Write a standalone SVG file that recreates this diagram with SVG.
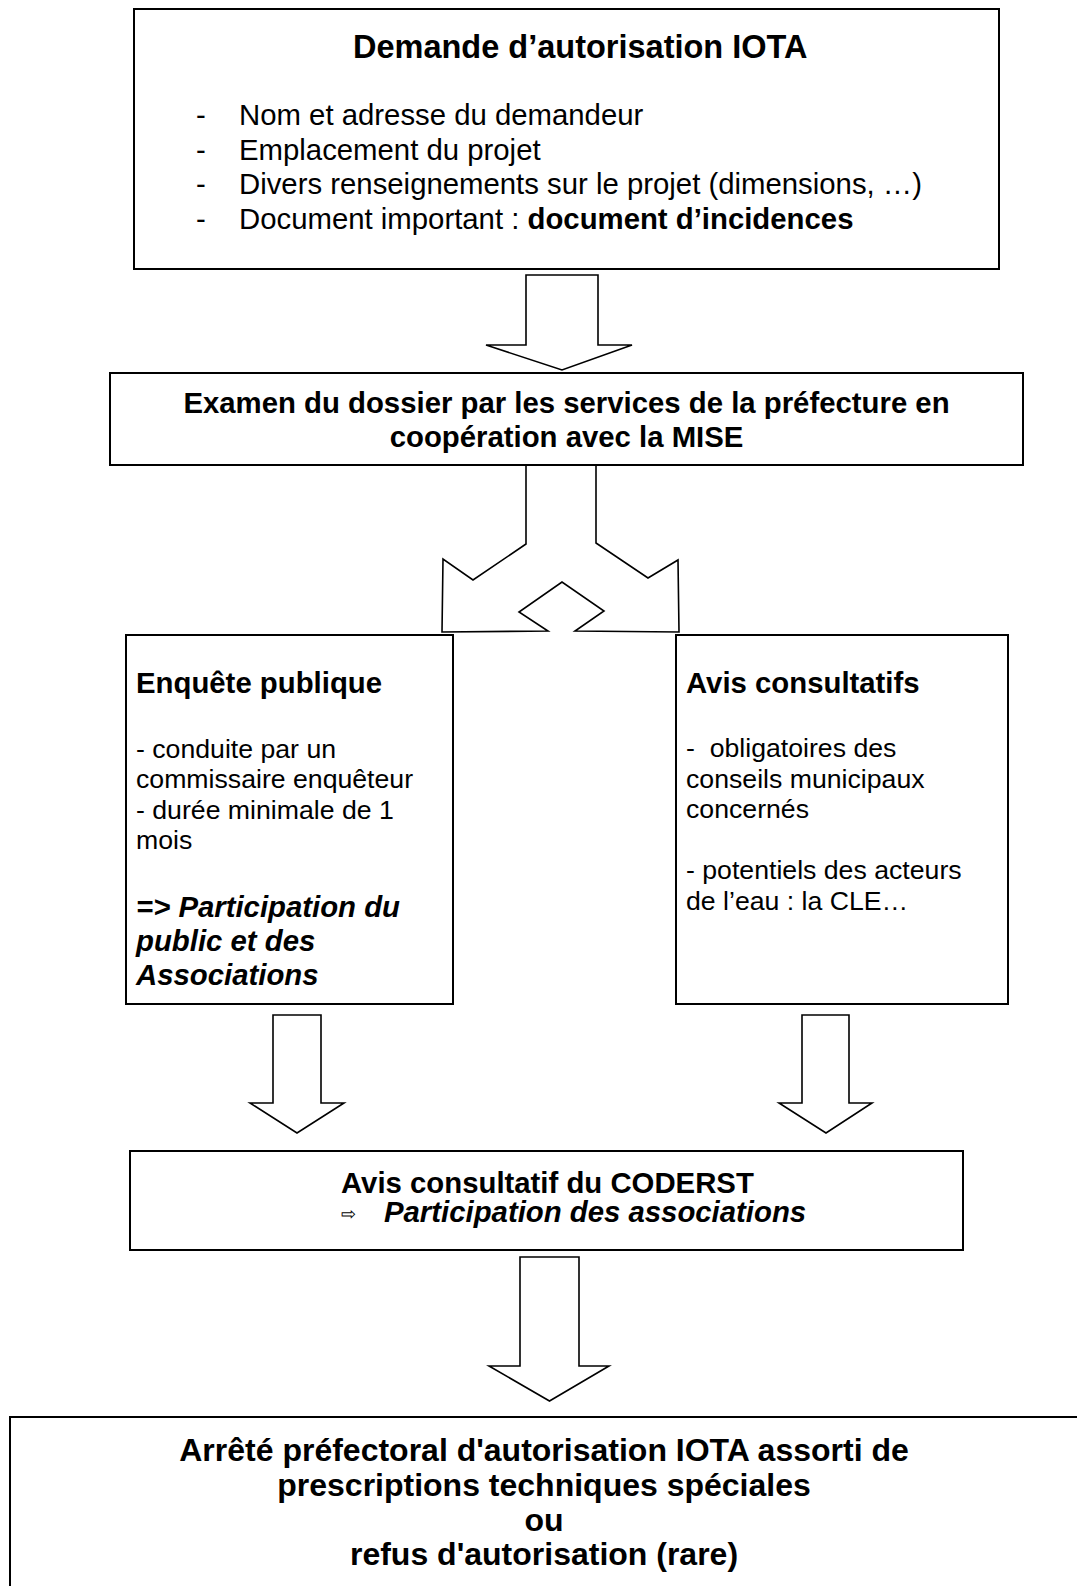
<svg xmlns="http://www.w3.org/2000/svg" width="1077" height="1586" viewBox="0 0 1077 1586">
<style>
text{font-family:"Liberation Sans",Arial,sans-serif;fill:#000}
.box{fill:#fff;stroke:#000;stroke-width:2}
.arr{fill:#fff;stroke:#000;stroke-width:1.6;stroke-linejoin:miter}
.t32{font-size:32.5px;font-weight:bold}
.b{font-size:29.33px;font-weight:bold}
.b24{font-size:32px;font-weight:bold}
.r22{font-size:29.33px}
.r20{font-size:26.67px}
.bi{font-size:29.33px;font-weight:bold;font-style:italic}
.mid{text-anchor:middle}
</style>
<rect width="1077" height="1586" fill="#fff"/>
<g id="connectors">
<polygon class="arr" points="526,275 598,275 598,345 632,345 562,370 486,345 526,345"/>
<polygon class="arr" points="526,465 526,544 473,580 443,559 442,632 548,631 519,612 562,582 604,611 575,631 679,632 678,560 648,578 596,543 596,465"/>
<polygon class="arr" points="273,1015 321,1015 321,1103 344,1103 297,1133 250,1103 273,1103"/>
<polygon class="arr" points="802,1015 849,1015 849,1103 872,1103 826,1133 779,1103 802,1103"/>
<polygon class="arr" points="520,1257 579,1257 579,1366 609,1366 549.5,1401 489,1366 520,1366"/>
</g>
<g id="demande">
<rect class="box" x="134" y="9" width="865" height="260"/>
<text class="t32" x="353" y="58">Demande d’autorisation IOTA</text>
<text class="r22" x="196" y="125">-</text>
<text class="r22" x="239" y="125">Nom et adresse du demandeur</text>
<text class="r22" x="196" y="159.7">-</text>
<text class="r22" x="239" y="159.7">Emplacement du projet</text>
<text class="r22" x="196" y="194.4">-</text>
<text class="r22" x="239" y="194.4">Divers renseignements sur le projet (dimensions, …)</text>
<text class="r22" x="196" y="229">-</text>
<text class="r22" x="239" y="229">Document important : <tspan font-weight="bold">document d’incidences</tspan></text>
</g>
<g id="examen">
<rect class="box" x="110" y="373" width="913" height="92"/>
<text class="b mid" x="566.5" y="413">Examen du dossier par les services de la préfecture en</text>
<text class="b mid" x="566.5" y="447">coopération avec la MISE</text>
</g>
<g id="enquete">
<rect class="box" x="126" y="635" width="327" height="369"/>
<text class="b" x="136" y="693">Enquête publique</text>
<text class="r20" x="136" y="758">- conduite par un</text>
<text class="r20" x="136" y="788">commissaire enquêteur</text>
<text class="r20" x="136" y="819">- durée minimale de 1</text>
<text class="r20" x="136" y="849">mois</text>
<text class="bi" x="136" y="917">=&gt; Participation du</text>
<text class="bi" x="136" y="951">public et des</text>
<text class="bi" x="136" y="985">Associations</text>
</g>
<g id="avis">
<rect class="box" x="676" y="635" width="332" height="369"/>
<text class="b" x="686" y="693">Avis consultatifs</text>
<text class="r20" x="686" y="757" xml:space="preserve">-  obligatoires des</text>
<text class="r20" x="686" y="788">conseils municipaux</text>
<text class="r20" x="686" y="818">concernés</text>
<text class="r20" x="686" y="879">- potentiels des acteurs</text>
<text class="r20" x="686" y="910">de l’eau : la CLE…</text>
</g>
<g id="coderst">
<rect class="box" x="130" y="1151" width="833" height="99"/>
<text class="b" x="341" y="1193">Avis consultatif du CODERST</text>
<text x="341" y="1220" font-family="DejaVu Sans,sans-serif" font-size="18">⇨</text>
<text class="bi" x="384" y="1222">Participation des associations</text>
</g>
<g id="arrete">
<path d="M10,1600 L10,1417 L1090,1417" fill="#fff" stroke="#000" stroke-width="2"/>
<text class="b24 mid" x="544" y="1461">Arrêté préfectoral d'autorisation IOTA assorti de</text>
<text class="b24 mid" x="544" y="1496">prescriptions techniques spéciales</text>
<text class="b24 mid" x="544" y="1530.5">ou</text>
<text class="b24 mid" x="544" y="1565">refus d'autorisation (rare)</text>
</g>
</svg>
